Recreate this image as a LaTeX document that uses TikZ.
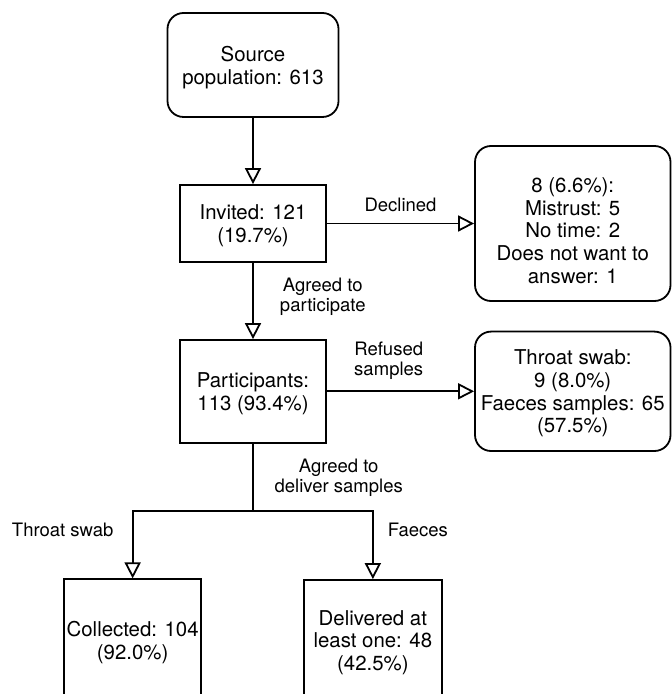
\documentclass[tikz,border=0pt]{standalone}
\usepackage{fontspec}
\setmainfont{TeX Gyre Heros}
\usetikzlibrary{positioning,arrows.meta}

\begin{document}
\begin{tikzpicture}[x=0.5pt,y=-0.5pt,line width=0.9pt,
  box/.style={draw, align=center, inner sep=0pt, text depth=0pt, font=\fontsize{10.2}{11.4}\selectfont},
  rbox/.style={box, rounded corners=8pt},
  lbl/.style={align=center, font=\fontsize{9.25}{10}\selectfont},
  arr/.style={-{Triangle[open,length=8pt,width=8pt]}}]
\useasboundingbox (0,0) rectangle (672,694);
\clip (0,0) rectangle (672,694);
\node[rbox, minimum width=85.5pt, minimum height=52pt] (src) at (253,65) {Source\\population: 613};
\node[box, minimum width=73pt, minimum height=38.5pt] (inv) at (253,223.5) {Invited: 121\\(19.7\%)};
\node[box, minimum width=73pt, minimum height=51.3pt] (part) at (253,391.3) {Participants:\\113 (93.4\%)};
\node[rbox, minimum width=97.75pt, minimum height=77.5pt, text height=60pt] (dec) at (572.75,223.5) {8 (6.6\%):\\Mistrust: 5\\No time: 2\\Does not want to\\answer: 1};
\node[rbox, minimum width=97.75pt, minimum height=59.7pt] (ref) at (572.75,391.3) {Throat swab:\\9 (8.0\%)\\Faeces samples: 65\\(57.5\%)};
\node[box, minimum width=68.65pt, minimum height=61pt] (col) at (132.65,640.3) {Collected: 104\\(92.0\%)};
\node[box, minimum width=68.85pt, minimum height=60.5pt] (del) at (372.85,640.5) {Delivered at\\least one: 48\\(42.5\%)};
\coordinate (split) at (253,511);
\draw[arr] (src) -- (inv);
\draw[arr] (inv) -- node[lbl, above=2pt] (declined) {Declined} (dec);
\draw[arr] (inv) -- node[lbl, right=9.7pt, pos=0.45] (agreed) {Agreed to\\participate} (part);
\draw[arr] (part) -- node[lbl, above=2pt, pos=0.42] (refused) {Refused\\samples} (ref);
\draw (part) -- node[lbl, right=7pt, pos=0.51] (deliver) {Agreed to\\deliver samples} (split);
\draw[arr] (split) -| node[lbl, left=5.85pt, pos=0.64] (throat) {Throat swab} (col.north);
\draw[arr] (split) -| node[lbl, right=3.75pt, pos=0.64] (faeces) {Faeces} (del.north);
\end{tikzpicture}
\end{document}
